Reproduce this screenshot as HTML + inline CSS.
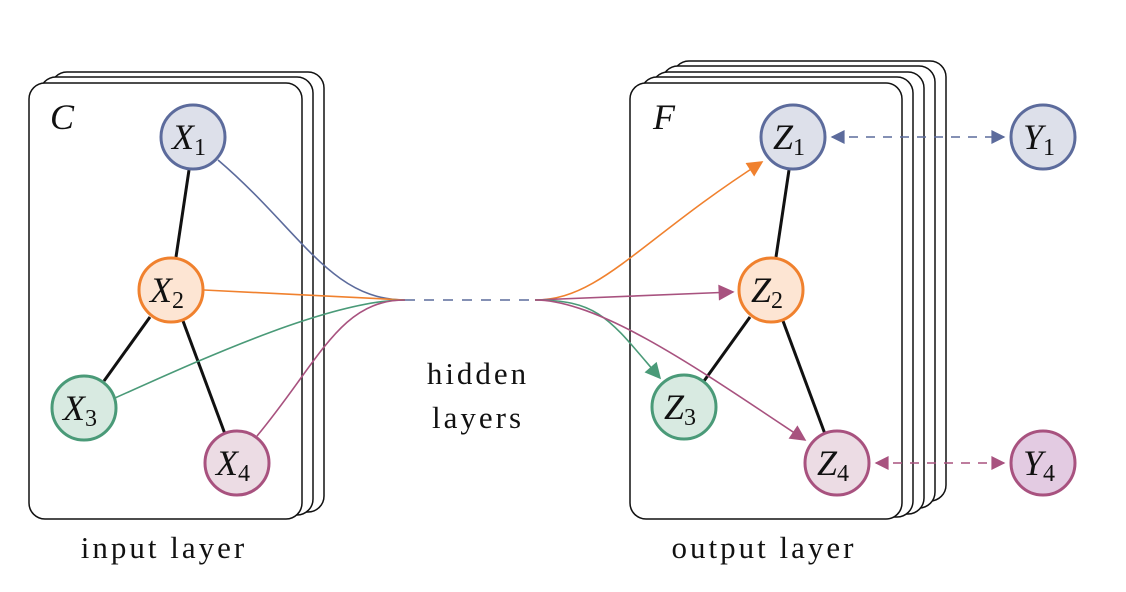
<!DOCTYPE html>
<html><head><style>body{margin:0;background:#fff}svg{display:block}</style></head><body>
<svg width="1126" height="592" viewBox="0 0 1126 592" xmlns="http://www.w3.org/2000/svg" font-family="Liberation Serif, serif">
<defs>
<marker id="ao" viewBox="0 0 10 10" refX="9" refY="5" markerWidth="11" markerHeight="11" markerUnits="userSpaceOnUse" orient="auto-start-reverse"><path d="M0,0L10,5L0,10z" fill="#f0812e"/></marker>
<marker id="ap" viewBox="0 0 10 10" refX="9" refY="5" markerWidth="18" markerHeight="16" markerUnits="userSpaceOnUse" orient="auto-start-reverse"><path d="M0,0L10,5L0,10z" fill="#a8527f"/></marker>
<marker id="ao2" viewBox="0 0 10 10" refX="9" refY="5" markerWidth="18" markerHeight="16" markerUnits="userSpaceOnUse" orient="auto-start-reverse"><path d="M0,0L10,5L0,10z" fill="#f0812e"/></marker>
<marker id="ag" viewBox="0 0 10 10" refX="9" refY="5" markerWidth="18" markerHeight="16" markerUnits="userSpaceOnUse" orient="auto-start-reverse"><path d="M0,0L10,5L0,10z" fill="#4a9a78"/></marker>
<marker id="ab" viewBox="0 0 10 10" refX="9" refY="5" markerWidth="16" markerHeight="14" markerUnits="userSpaceOnUse" orient="auto-start-reverse"><path d="M0,0L10,5L0,10z" fill="#5c6b9c"/></marker>
<marker id="ap2" viewBox="0 0 10 10" refX="9" refY="5" markerWidth="16" markerHeight="14" markerUnits="userSpaceOnUse" orient="auto-start-reverse"><path d="M0,0L10,5L0,10z" fill="#a8527f"/></marker>
</defs>
<g fill="#fff" stroke="#111" stroke-width="1.5">
<rect x="51" y="72" width="273" height="440" rx="16"/>
<rect x="40" y="77" width="273" height="438" rx="16"/>
<rect x="29" y="83" width="273" height="436" rx="16"/>
<rect x="673" y="61" width="273" height="440" rx="16"/>
<rect x="662" y="66" width="273" height="442" rx="16"/>
<rect x="652" y="72" width="272" height="442" rx="16"/>
<rect x="641" y="77" width="272" height="440" rx="16"/>
<rect x="630" y="83" width="272" height="436" rx="16"/>
</g>
<g stroke="#111" stroke-width="3">
<line x1="189" y1="170" x2="176" y2="257"/><line x1="150" y1="317" x2="104" y2="381"/><line x1="183" y1="321" x2="225" y2="434"/>
<line x1="789" y1="170" x2="776" y2="257"/><line x1="750" y1="317" x2="704" y2="381"/><line x1="783" y1="321" x2="825" y2="434"/>
</g>
<g fill="none" stroke-width="1.6">
<path d="M218,160 C300,230 330,300 405,300" stroke="#5c6b9c"/>
<path d="M204,290 L405,300" stroke="#f0812e"/>
<path d="M115,398 C200,360 330,300 405,300" stroke="#4a9a78"/>
<path d="M257,436 C320,360 340,300 405,300" stroke="#a8527f"/>
<line x1="405" y1="300" x2="535" y2="300" stroke="#5c6b9c" stroke-dasharray="10,9"/>
<path d="M535,300 C600,300 640,240 762,162" stroke="#f0812e" marker-end="url(#ao2)"/>
<path d="M535,300 L733,292" stroke="#a8527f" marker-end="url(#ap)"/>
<path d="M535,300 C600,300 610,320 660,378" stroke="#4a9a78" marker-end="url(#ag)"/>
<path d="M535,300 C600,300 700,370 805,440" stroke="#a8527f" marker-end="url(#ap)"/>
<line x1="832" y1="137" x2="1004" y2="137" stroke="#5c6b9c" stroke-dasharray="9,8" marker-start="url(#ab)" marker-end="url(#ab)"/>
<line x1="876" y1="463" x2="1004" y2="463" stroke="#a8527f" stroke-dasharray="9,8" marker-start="url(#ap2)" marker-end="url(#ap2)"/>
</g>
<g stroke-width="3">
<circle cx="193" cy="137" r="32" fill="#dde0ea" stroke="#5c6b9c"/>
<circle cx="171" cy="290" r="32" fill="#fde5d3" stroke="#f0812e"/>
<circle cx="84" cy="408" r="32" fill="#d8eae1" stroke="#4a9a78"/>
<circle cx="237" cy="463" r="32" fill="#ecdce4" stroke="#a8527f"/>
<circle cx="793" cy="137" r="32" fill="#dde0ea" stroke="#5c6b9c"/>
<circle cx="771" cy="290" r="32" fill="#fde5d3" stroke="#f0812e"/>
<circle cx="684" cy="407" r="32" fill="#d8eae1" stroke="#4a9a78"/>
<circle cx="837" cy="463" r="32" fill="#ecdce4" stroke="#a8527f"/>
<circle cx="1043" cy="137" r="32" fill="#dde0ea" stroke="#5c6b9c"/>
<circle cx="1043" cy="463" r="32" fill="#e3cbe2" stroke="#a8527f"/>
</g>
<g font-size="36" font-style="italic" fill="#111" text-anchor="middle">
<text x="189" y="149">X<tspan font-size="24" font-style="normal" dy="6">1</tspan></text>
<text x="167" y="302">X<tspan font-size="24" font-style="normal" dy="6">2</tspan></text>
<text x="80" y="420">X<tspan font-size="24" font-style="normal" dy="6">3</tspan></text>
<text x="233" y="475">X<tspan font-size="24" font-style="normal" dy="6">4</tspan></text>
<text x="789" y="149">Z<tspan font-size="24" font-style="normal" dy="6">1</tspan></text>
<text x="767" y="302">Z<tspan font-size="24" font-style="normal" dy="6">2</tspan></text>
<text x="680" y="419">Z<tspan font-size="24" font-style="normal" dy="6">3</tspan></text>
<text x="833" y="475">Z<tspan font-size="24" font-style="normal" dy="6">4</tspan></text>
<text x="1039" y="149">Y<tspan font-size="24" font-style="normal" dy="6">1</tspan></text>
<text x="1039" y="475">Y<tspan font-size="24" font-style="normal" dy="6">4</tspan></text>
<text x="62" y="129">C</text>
<text x="664" y="129">F</text>
</g>
<g font-size="31" fill="#111" text-anchor="middle" letter-spacing="3">
<text x="478" y="384">hidden</text>
<text x="478" y="428">layers</text>
<text x="164" y="558">input layer</text>
<text x="764" y="558">output layer</text>
</g>
</svg>
</body></html>
